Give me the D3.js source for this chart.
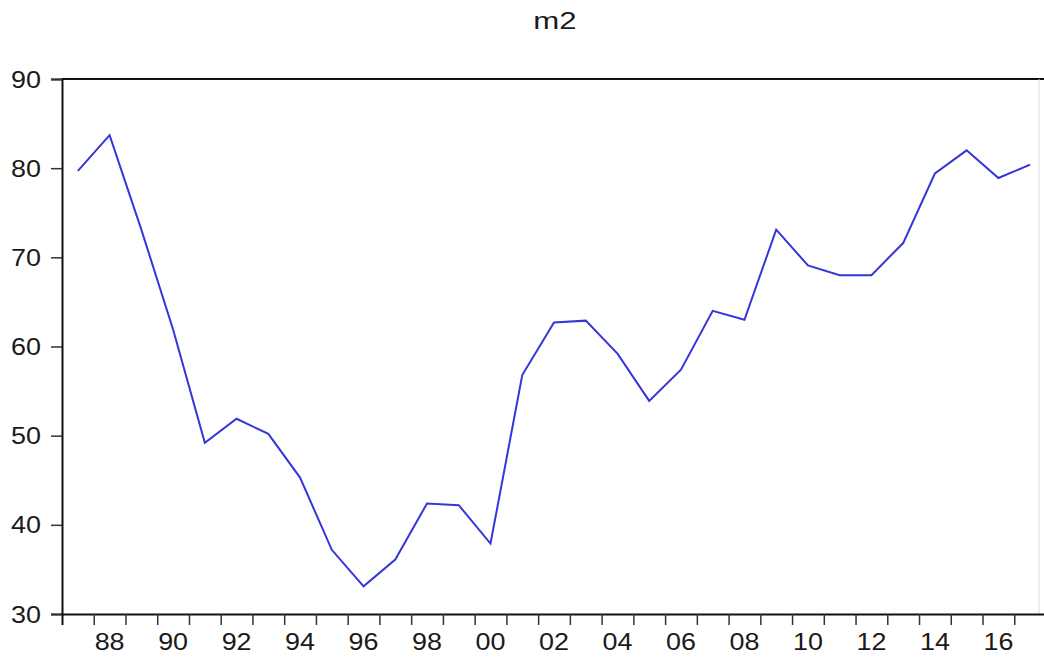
<!DOCTYPE html>
<html>
<head>
<meta charset="utf-8">
<script src="https://cdn.jsdelivr.net/npm/d3@7"></script>
<style>
  body { margin: 0; background: #fff; }
  text { font-family: "Liberation Sans", Arial, sans-serif; fill: #1a1a1a; }
</style>
</head>
<body>
<svg id="viz" width="1044" height="657"></svg>
<script>
// === DATA ===
const years = d3.range(1987, 2018);
const m2 = [
  79.7, 83.7, 73.1, 61.9, 49.2, 51.9, 50.2, 45.3, 37.2, 33.1,
  36.1, 42.4, 42.2, 37.9, 56.8, 62.7, 62.9, 59.2, 53.9, 57.4,
  64.0, 63.0, 73.1, 69.1, 68.0, 68.0, 71.6, 79.4, 82.0, 78.9, 80.4
];
const yTicks = [30, 40, 50, 60, 70, 80, 90];
const xLabelYears = d3.range(1988, 2017, 2);

// === LAYOUT ===
const svg = d3.select("#viz");
const plotLeft = 62, plotTop = 79, plotBottom = 614, plotRight = 1046;
const stretch = 1.17;

const x = d3.scaleLinear().domain([1987, 2018]).range([plotLeft, plotRight]);
const y = d3.scaleLinear().domain([30, 90]).range([plotBottom, plotTop]);

// frame
svg.append("line")
  .attr("x1", plotLeft).attr("x2", 1044).attr("y1", plotTop).attr("y2", plotTop)
  .attr("stroke", "#111").attr("stroke-width", 2);
svg.append("line")
  .attr("x1", 1039).attr("x2", 1039).attr("y1", plotTop).attr("y2", plotBottom)
  .attr("stroke", "#ddd").attr("stroke-width", 1);

// y axis
const yAxis = svg.append("g")
  .attr("transform", `translate(${plotLeft},0)`)
  .call(d3.axisLeft(y).tickValues(yTicks).tickSize(11).tickFormat(d3.format("d")));
yAxis.select(".domain").attr("stroke", "#111").attr("stroke-width", 2);
yAxis.selectAll(".tick line").attr("stroke", "#333").attr("stroke-width", 1.5);
yAxis.selectAll(".tick text").remove();
yAxis.selectAll(".tick").append("text")
  .attr("transform", `translate(-21,8) scale(${stretch},1)`)
  .attr("text-anchor", "end")
  .style("font-size", "23px")
  .text(d => d);

// x axis: ticks at year boundaries, labels centered on the year
const xAxis = svg.append("g")
  .attr("transform", `translate(0,${plotBottom})`)
  .call(d3.axisBottom(x).tickValues(d3.range(1988, 2018)).tickSize(11).tickFormat(""));
xAxis.select(".domain").attr("stroke", "#111").attr("stroke-width", 2);
xAxis.selectAll(".tick line").attr("stroke", "#333").attr("stroke-width", 1.5);

svg.append("g")
  .selectAll("text")
  .data(xLabelYears)
  .enter()
  .append("text")
  .attr("transform", d => `translate(${x(d + 0.5)},${plotBottom + 36}) scale(${stretch},1)`)
  .attr("text-anchor", "middle")
  .style("font-size", "23px")
  .text(d => String(d % 100).padStart(2, "0"));

// title
svg.append("text")
  .attr("transform", `translate(555,29) scale(1.3,1)`)
  .attr("text-anchor", "middle")
  .style("font-size", "24px")
  .text("m2");

// series line
const line = d3.line()
  .x((d, i) => x(years[i] + 0.5))
  .y(d => y(d));

svg.append("path")
  .datum(m2)
  .attr("fill", "none")
  .attr("stroke", "#3535dc")
  .attr("stroke-width", 2)
  .attr("stroke-linejoin", "miter")
  .attr("d", line);
</script>
</body>
</html>
